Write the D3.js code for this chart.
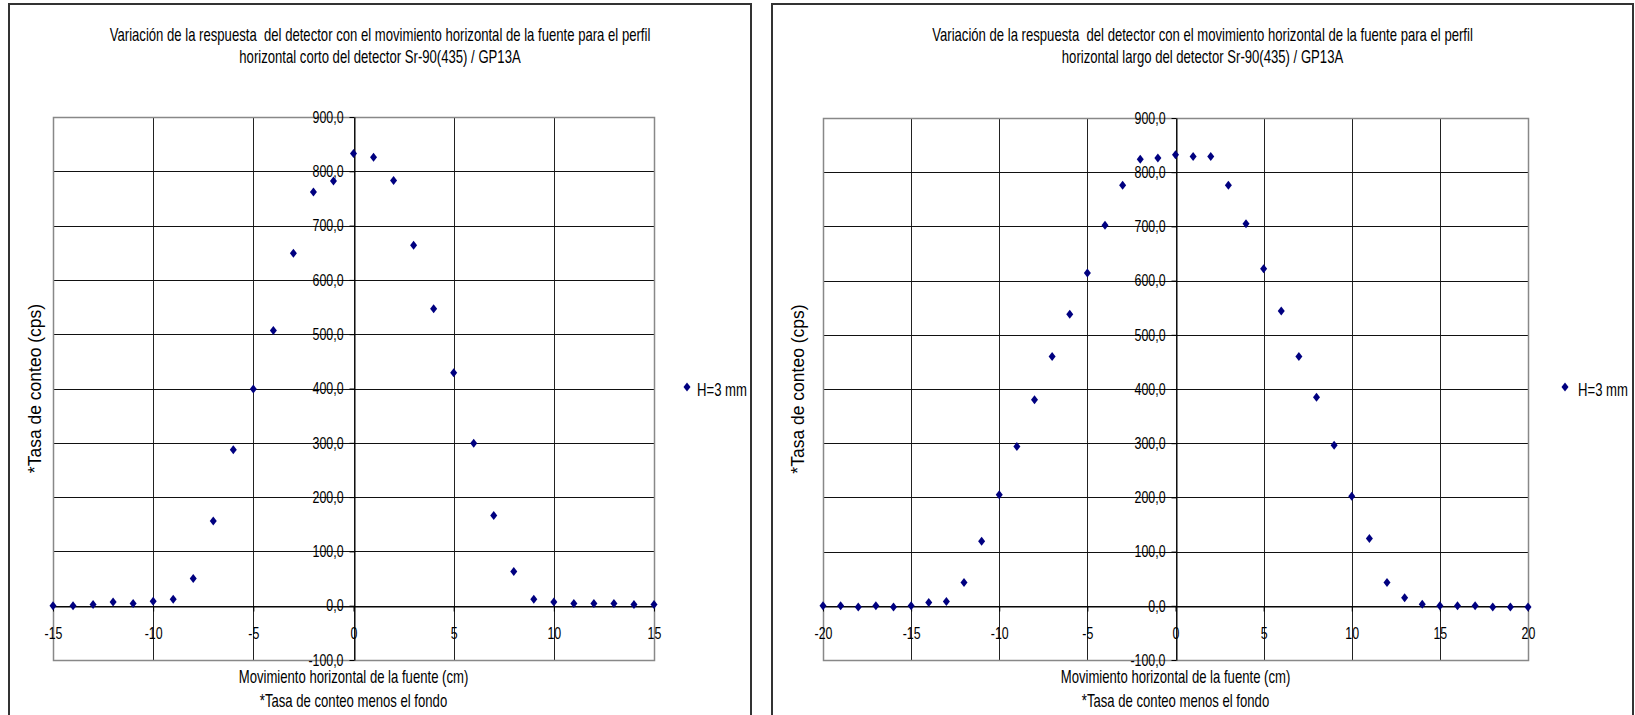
<!DOCTYPE html>
<html>
<head>
<meta charset="utf-8">
<script src="https://cdn.jsdelivr.net/npm/d3@7"></script>
<style>
body { margin: 0; background: #fff; }
svg text { font-family: "Liberation Sans", Arial, sans-serif; fill: #000; white-space: pre; }
</style>
</head>
<body>
<svg id="chart" width="1635" height="715"></svg>
<script>
// ---- data ----
var seriesName = "H=3 mm";
var yTicks = [-100, 0, 100, 200, 300, 400, 500, 600, 700, 800, 900];

// perfil horizontal corto
var cortoX = [-15, -14, -13, -12, -11, -10, -9, -8, -7, -6, -5, -4, -3, -2, -1, 0,
              1, 2, 3, 4, 5, 6, 7, 8, 9, 10, 11, 12, 13, 14, 15];
var cortoY = [0, 0, 2, 7, 4, 8, 12, 50, 156, 287, 399, 507, 649, 762, 782, 833,
              826, 783, 664, 547, 429, 299, 166, 63, 12, 7, 4, 4, 4, 2, 2];
var cortoXTicks = [-15, -10, -5, 0, 5, 10, 15];

// perfil horizontal largo
var largoX = [-20, -19, -18, -17, -16, -15, -14, -13, -12, -11, -10, -9, -8, -7, -6, -5, -4, -3, -2, -1, 0,
              1, 2, 3, 4, 5, 6, 7, 8, 9, 10, 11, 12, 13, 14, 15, 16, 17, 18, 19, 20];
var largoY = [0, 0, -2, 0, -2, 0, 6, 8, 43, 119, 205, 294, 380, 460, 538, 614, 702, 776, 824, 826, 832,
              829, 829, 776, 705, 622, 544, 460, 385, 296, 202, 124, 43, 15, 3, 0, 0, 0, -2, -2, -2];
var largoXTicks = [-20, -15, -10, -5, 0, 5, 10, 15, 20];

var titleCorto = ["Variación de la respuesta  del detector con el movimiento horizontal de la fuente para el perfil",
                  "horizontal corto del detector Sr-90(435) / GP13A"];
var titleLargo = ["Variación de la respuesta  del detector con el movimiento horizontal de la fuente para el perfil",
                  "horizontal largo del detector Sr-90(435) / GP13A"];
var xTitle = ["Movimiento horizontal de la fuente (cm)", "*Tasa de conteo menos el fondo"];
var yTitle = "*Tasa de conteo (cps)";

var es = d3.formatLocale({decimal: ",", thousands: ".", grouping: [3], currency: ["", " €"]});
var fmt = es.format(".1f");

var SX = 0.75;   // the original text is horizontally squeezed
var svg = d3.select("#chart");

function squeeze(sel) {
  sel.each(function() {
    var t = d3.select(this);
    var x = +t.attr("x") || 0;
    t.attr("x", x / SX).attr("transform", "scale(" + SX + ",1)");
  });
}

function diamond() { return "M0,-4.5L3.5,0L0,4.5L-3.5,0Z"; }

//---------------------------------------
function drawChart(cfg) {
  var g = svg.append("g");

  // outer chart frame
  g.append("rect")
    .attr("x", cfg.frame[0]).attr("y", 4)
    .attr("width", cfg.frame[1] - cfg.frame[0]).attr("height", 760)
    .attr("fill", "none").attr("stroke", "#333").attr("stroke-width", 2);

  var x = d3.scaleLinear().domain(d3.extent(cfg.xTicks)).range([cfg.plot.left, cfg.plot.right]);
  var y = d3.scaleLinear().domain([-100, 900]).range([cfg.plot.bottom, cfg.plot.top]);

  // grid
  g.append("g").selectAll("line").data(cfg.xTicks).enter().append("line")
    .attr("x1", function(d) { return Math.round(x(d)) + 0.5; })
    .attr("x2", function(d) { return Math.round(x(d)) + 0.5; })
    .attr("y1", cfg.plot.top).attr("y2", cfg.plot.bottom)
    .attr("stroke", "#222").attr("stroke-width", 1);
  g.append("g").selectAll("line").data(yTicks).enter().append("line")
    .attr("y1", function(d) { return Math.round(y(d)) + 0.5; })
    .attr("y2", function(d) { return Math.round(y(d)) + 0.5; })
    .attr("x1", cfg.plot.left).attr("x2", cfg.plot.right)
    .attr("stroke", "#111").attr("stroke-width", 1);

  g.append("rect")
    .attr("x", cfg.plot.left + 0.5).attr("y", cfg.plot.top + 0.5)
    .attr("width", cfg.plot.right - cfg.plot.left).attr("height", cfg.plot.bottom - cfg.plot.top)
    .attr("fill", "none").attr("stroke", "#888").attr("stroke-width", 1.5);

  // axes crossing at 0
  var gx = g.append("g")
    .attr("transform", "translate(0," + (Math.round(y(0)) + 0.5) + ")")
    .call(d3.axisBottom(x).tickValues(cfg.xTicks).tickSize(5).tickSizeOuter(0).tickPadding(16)
      .tickFormat(d3.format("d")));
  var gy = g.append("g")
    .attr("transform", "translate(" + (Math.round(x(0)) + 0.5) + ",0)")
    .call(d3.axisLeft(y).tickValues(yTicks).tickSize(5).tickSizeOuter(0).tickPadding(6)
      .tickFormat(fmt));
  [gx, gy].forEach(function(a) {
    a.selectAll(".domain").attr("stroke", "#000");
    a.selectAll(".tick line").attr("stroke", "#000");
    a.selectAll("text").attr("font-size", "16.5px").attr("font-family", null).attr("fill", "#000");
    squeeze(a.selectAll("text"));
  });
  gx.selectAll("text").text(function(d) { return d3.format("d")(d).replace("−", "-"); });
  gy.selectAll("text").text(function(d) { return fmt(d).replace("−", "-"); });

  // points
  g.append("g").selectAll("path").data(cfg.xs).enter().append("path")
    .attr("d", diamond)
    .attr("transform", function(d, i) { return "translate(" + x(d) + "," + y(cfg.ys[i]) + ")"; })
    .attr("fill", "#000080");

  // title
  var cx = (cfg.frame[0] + cfg.frame[1]) / 2;
  g.selectAll(".title").data(cfg.title).enter().append("text")
    .attr("class", "title")
    .attr("text-anchor", "middle").attr("font-size", "17.5px")
    .attr("transform", function(d, i) { return "translate(" + cx + "," + (41 + i * 22) + ") scale(" + SX + ",1)"; })
    .text(function(d) { return d; });

  // x axis titles
  var px = (cfg.plot.left + cfg.plot.right) / 2;
  g.selectAll(".xt").data(xTitle).enter().append("text")
    .attr("class", "xt")
    .attr("text-anchor", "middle").attr("font-size", "17.5px")
    .attr("transform", function(d, i) { return "translate(" + px + "," + (cfg.plot.bottom + 23 + i * 24) + ") scale(" + SX + ",1)"; })
    .text(function(d) { return d; });

  // y axis title
  g.append("text")
    .attr("text-anchor", "middle").attr("font-size", "17.5px")
    .attr("transform", "translate(" + (cfg.frame[0] + 32) + "," + ((cfg.plot.top + cfg.plot.bottom) / 2) + ") rotate(-90)")
    .text(yTitle);

  // legend
  g.append("path").attr("d", diamond)
    .attr("transform", "translate(" + cfg.legend[0] + ",387)")
    .attr("fill", "#000080");
  g.append("text")
    .attr("font-size", "17.5px")
    .attr("transform", "translate(" + cfg.legend[1] + ",396) scale(" + SX + ",1)")
    .text(seriesName);
}

drawChart({
  frame: [9, 751],
  plot: {left: 53, right: 654, top: 117, bottom: 660},
  xTicks: cortoXTicks, xs: cortoX, ys: cortoY,
  title: titleCorto, legend: [687, 697]
});

drawChart({
  frame: [772, 1633],
  plot: {left: 823, right: 1528, top: 118, bottom: 660},
  xTicks: largoXTicks, xs: largoX, ys: largoY,
  title: titleLargo, legend: [1565, 1578]
});
</script>
</body>
</html>
